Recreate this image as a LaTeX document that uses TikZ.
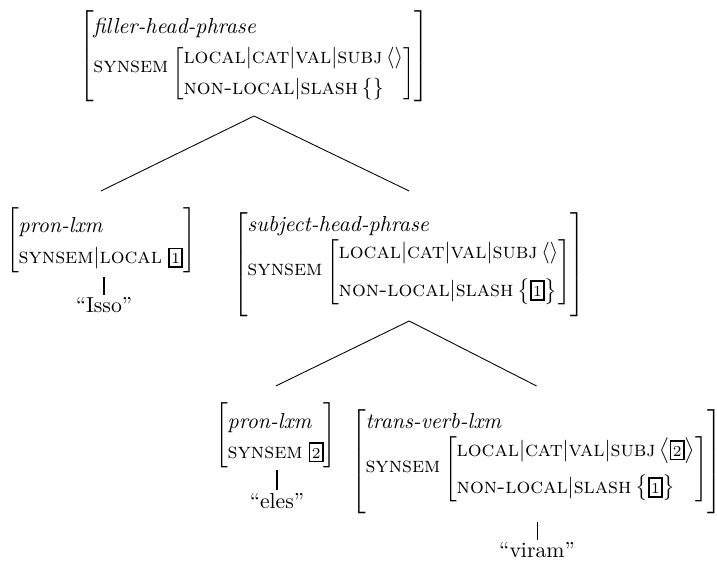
\documentclass[tikz,border=0pt]{standalone}
\usepackage{amsmath}
\usetikzlibrary{calc}
% feature names in small caps, structure-sharing tags in boxes
\newcommand{\ftr}[1]{\textsc{#1}}
\newcommand{\tg}[1]{{\setlength{\fboxsep}{0.7pt}\setlength{\fboxrule}{0.8pt}\fbox{\scriptsize\rule[-0.5pt]{0pt}{6.5pt}#1}}}
\newcommand{\avmrows}[1]{\left[\begin{array}{@{}l@{}}#1\end{array}\right]}
% an embedded matrix, set a little below the feature name that opens it
\newcommand{\sub}[2]{\lower#1\hbox{$\avmrows{#2}$}}
% extra room above the type line of a matrix, and below its last line
\newcommand{\tstrut}{\rule{0pt}{11pt}}
\newcommand{\bstrut}{\rule[-21pt]{0pt}{0pt}}
\begin{document}
\begin{tikzpicture}[x=0.46pt,y=-0.46pt,
  avm/.style={inner sep=0pt,outer sep=0pt,anchor=north west},
  word/.style={inner sep=0pt,outer sep=0pt,anchor=base},
  branch/.style={line width=0.4pt},
  leafthick/.style={line width=0.95pt},
  leafthin/.style={line width=0.4pt}]
\useasboundingbox (0,0) rectangle (717,561);

\node[avm] (top) at (79,10) {$\avmrows{\tstrut\textit{filler-head-phrase}\\[1.5pt]
  \ftr{synsem}\,\sub{3pt}{\ftr{local}|\ftr{cat}|\ftr{val}|\ftr{subj}\,\langle\rangle\\[2.5pt]
  \ftr{non-local}|\ftr{slash}\,\{\}}}$};

\node[avm] (left) at (6,208) {$\avmrows{\rule{0pt}{10.5pt}\textit{pron-lxm}\\[2.5pt]
  \ftr{synsem}|\ftr{local}\;\tg{1}}$};

\node[avm] (right) at (233,208) {$\avmrows{\tstrut\textit{subject-head-phrase}\\
  \ftr{synsem}\,\sub{1pt}{\ftr{local}|\ftr{cat}|\ftr{val}|\ftr{subj}\,\langle\rangle\\[5.5pt]
  \ftr{non-local}|\ftr{slash}\,\bigl\{\tg{1}\bigr\}}\bstrut}$};

\node[avm] (bl) at (215,403) {$\avmrows{\rule{0pt}{10.5pt}\textit{pron-lxm}\\[1.8pt]
  \ftr{synsem}\;\tg{2}}$};

\node[avm] (br) at (351,405) {$\avmrows{\tstrut\textit{trans-verb-lxm}\\
  \ftr{synsem}\,\sub{1pt}{\ftr{local}|\ftr{cat}|\ftr{val}|\ftr{subj}\,\bigl\langle\tg{2}\bigr\rangle\\[5pt]
  \ftr{non-local}|\ftr{slash}\,\bigl\{\tg{1}\bigr\}}\bstrut}$};

\node[word] (isso) at (104,312) {``Isso''};
\node[word] (eles) at (277,508) {``eles''};
\node[word] (viram) at (537,557) {``viram''};

% branching points of the tree
\coordinate (apex1) at (top.south |- 0,116);
\coordinate (l1) at (left.north |- 0,191);
\coordinate (r1) at (right.north |- 0,191);
\coordinate (apex2) at (right.south |- 0,321);
\coordinate (l2) at (bl.north |- 0,386);
\coordinate (r2) at (br.north |- 0,386);

\draw[branch] (l1) -- (apex1) -- (r1);
\draw[branch] (l2) -- (apex2) -- (r2);

% unary links down to the words
\coordinate (u1) at (isso.north |- 0,277);
\coordinate (u2) at (eles.north |- 0,470);
\coordinate (u3) at (viram.north |- 0,522);
\draw[leafthick] (u1) -- (isso.north |- 0,295);
\draw[leafthick] (u2) -- (eles.north |- 0,490);
\draw[leafthin] (u3) -- (viram.north |- 0,540);
\end{tikzpicture}
\end{document}
